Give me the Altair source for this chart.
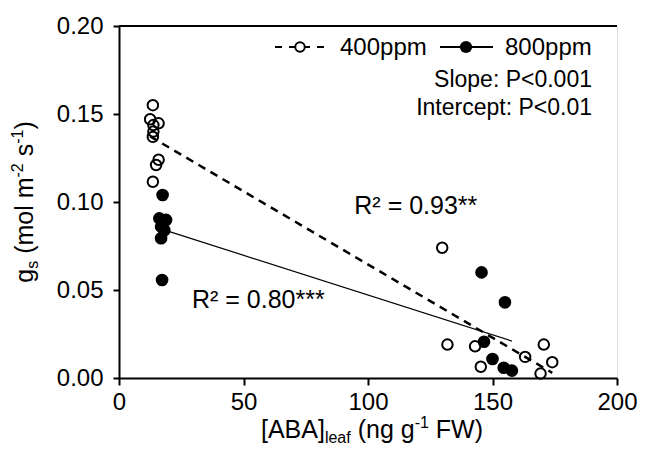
import altair as alt
import pandas as pd

# ---- data ----
aba_400 = [13.6, 12.5, 15.9, 13.8, 13.8, 13.6, 15.9, 14.9, 13.6,
           129.8, 131.9, 143.0, 145.3, 163.1, 170.6, 174.0, 169.3]
gs_400 = [0.155, 0.147, 0.1447, 0.1437, 0.140, 0.137, 0.124, 0.121, 0.1115,
          0.074, 0.0190, 0.0180, 0.0064, 0.0120, 0.0190, 0.0090, 0.0025]
aba_800 = [17.5, 16.2, 18.9, 16.9, 18.2, 16.9, 17.3,
           145.6, 155.0, 146.6, 150.0, 154.5, 157.8]
gs_800 = [0.104, 0.0907, 0.0898, 0.086, 0.084, 0.0794, 0.0557,
          0.060, 0.043, 0.0206, 0.0108, 0.0058, 0.0042]

x_ticks = [0, 50, 100, 150, 200]
y_ticks = [0.0, 0.05, 0.10, 0.15, 0.20]

r2_labels = ["R² = 0.93**", "R² = 0.80***"]
r2_x = [94.5, 29.3]
r2_y = [0.0977, 0.0443]

legend_labels = ["400ppm", "800ppm"]
stats_lines = ["Slope: P<0.001", "Intercept: P<0.01"]

FONT = "Liberation Sans"
W, H = 498, 352
TICK_FS = 24
TITLE_FS = 25
SUB_FS = 16

df400 = pd.DataFrame({"aba": aba_400, "gs": gs_400})
df800 = pd.DataFrame({"aba": aba_800, "gs": gs_800})
dfr2 = pd.DataFrame({"aba": r2_x, "gs": r2_y, "label": r2_labels})

xs = alt.Scale(domain=[0, 200], nice=False, zero=False)
ys = alt.Scale(domain=[0, 0.2], nice=False, zero=False)
x_axis = alt.Axis(values=x_ticks, title=None, grid=False, labelFontSize=TICK_FS,
                  labelFont=FONT, labelColor="black", domainColor="black",
                  domainWidth=2, tickColor="black", tickWidth=2, tickSize=7,
                  labelPadding=5, labelFlush=False, labelOverlap=False)
y_axis = alt.Axis(values=y_ticks, format=".2f", title=None, grid=False,
                  labelFontSize=TICK_FS, labelFont=FONT, labelColor="black",
                  domainColor="black", domainWidth=2, tickColor="black",
                  tickWidth=2, tickSize=6, labelPadding=10, labelFlush=False)

X = alt.X("aba:Q", scale=xs, axis=x_axis)
Y = alt.Y("gs:Q", scale=ys, axis=y_axis)

pts400 = alt.Chart(df400).mark_point(shape="circle", filled=False, color="black",
                                     strokeWidth=2, size=110, opacity=1).encode(x=X, y=Y)
pts800 = alt.Chart(df800).mark_circle(color="black", size=160, opacity=1).encode(x=X, y=Y)

reg400 = alt.Chart(df400).transform_regression("aba", "gs").mark_line(
    color="black", strokeWidth=2.5, strokeDash=[8, 6]).encode(x=X, y=Y)
reg800 = alt.Chart(df800).transform_regression("aba", "gs").mark_line(
    color="black", strokeWidth=1.2).encode(x=X, y=Y)

r2txt = alt.Chart(dfr2).mark_text(align="left", baseline="middle", font=FONT,
                                  fontSize=25, color="black").encode(
    x=X, y=Y, text="label:N")

one = pd.DataFrame({"a": [0]})
top_rule = alt.Chart(one).mark_rule(color="black", strokeWidth=2).encode(
    x=alt.value(0), x2=alt.value(W), y=alt.value(0))

# ---- legend ----
LY = 21
leg = [
    alt.Chart(one).mark_rule(color="black", strokeWidth=2, strokeDash=[7, 7]).encode(
        x=alt.value(156), x2=alt.value(206), y=alt.value(LY)),
    alt.Chart(one).mark_point(shape="circle", filled=True, fill="white", stroke="black",
                              strokeWidth=2, size=90, opacity=1).encode(
        x=alt.value(181), y=alt.value(LY)),
    alt.Chart(one).mark_text(align="left", baseline="middle", font=FONT,
                             fontSize=TICK_FS, color="black").encode(
        x=alt.value(221), y=alt.value(LY + 1), text=alt.value(legend_labels[0])),
    alt.Chart(one).mark_rule(color="black", strokeWidth=2).encode(
        x=alt.value(321), x2=alt.value(374), y=alt.value(LY)),
    alt.Chart(one).mark_circle(color="black", size=150, opacity=1).encode(
        x=alt.value(347), y=alt.value(LY)),
    alt.Chart(one).mark_text(align="left", baseline="middle", font=FONT,
                             fontSize=TICK_FS, color="black").encode(
        x=alt.value(386), y=alt.value(LY + 1), text=alt.value(legend_labels[1])),
    alt.Chart(one).mark_text(align="right", baseline="middle", font=FONT,
                             fontSize=TICK_FS - 1, color="black").encode(
        x=alt.value(473), y=alt.value(54), text=alt.value(stats_lines[0])),
    alt.Chart(one).mark_text(align="right", baseline="middle", font=FONT,
                             fontSize=TICK_FS - 1, color="black").encode(
        x=alt.value(473), y=alt.value(82), text=alt.value(stats_lines[1])),
]

# ---- axis titles with sub/superscripts (spaces handled as gaps) ----
ADV = {' ': 278, '(': 333, ')': 333, '[': 278, ']': 278, 'A': 667, 'B': 667,
       'F': 611, 'W': 944, 'g': 556, 'n': 556, 'l': 222, 'e': 556, 'a': 556,
       'f': 278, 'm': 833, 'o': 556, 's': 500, '-': 333, '1': 556, '2': 556}


def tw(s, fs):
    return sum(ADV.get(c, 556) for c in s) * fs / 1000.0


def split_words(pieces):
    out = []
    for txt, fs, shift in pieces:
        words = txt.split(" ")
        for i, wd in enumerate(words):
            if i > 0:
                out.append((" ", fs, shift))
            if wd:
                out.append((wd, fs, shift))
    return out


def title_layers(pieces, start, base, vertical):
    out = []
    pos = start
    for txt, fs, shift in pieces:
        if txt != " ":
            if vertical:
                enc = dict(x=alt.value(base + shift), y=alt.value(pos), text=alt.value(txt))
                ang = 270
            else:
                enc = dict(x=alt.value(pos), y=alt.value(base + shift), text=alt.value(txt))
                ang = 0
            out.append(alt.Chart(one).mark_text(align="left", baseline="alphabetic",
                                                font=FONT, fontSize=fs, angle=ang,
                                                color="black").encode(**enc))
        w = tw(txt, fs)
        pos = pos - w if vertical else pos + w
    return out


xt_pieces = split_words([("[ABA]", TITLE_FS, 0), ("leaf", SUB_FS, 5), (" (ng g", TITLE_FS, 0),
                         ("-1", SUB_FS, -10), (" FW)", TITLE_FS, 0)])
xt_w = sum(tw(t, f) for t, f, _ in xt_pieces)
xt = title_layers(xt_pieces, 253 - xt_w / 2, 412, False)

yt_pieces = split_words([("g", TITLE_FS, 0), ("s", SUB_FS, 5), (" (mol m", TITLE_FS, 0),
                         ("-2", SUB_FS, -10), (" s", TITLE_FS, 0), ("-1", SUB_FS, -10),
                         (")", TITLE_FS, 0)])
yt_w = sum(tw(t, f) for t, f, _ in yt_pieces)
yt = title_layers(yt_pieces, H / 2 + yt_w / 2, -86, True)

chart = alt.layer(pts400, reg400, reg800, pts800, r2txt, top_rule, *leg, *xt, *yt).properties(
    width=W, height=H,
    padding={"left": 111, "top": 18, "right": 20, "bottom": 71},
    autosize=alt.AutoSizeParams(type="none"),
).configure_view(stroke=None).configure(background="white")

chart.save("out.html", embed_options={"renderer": "svg", "actions": False})
